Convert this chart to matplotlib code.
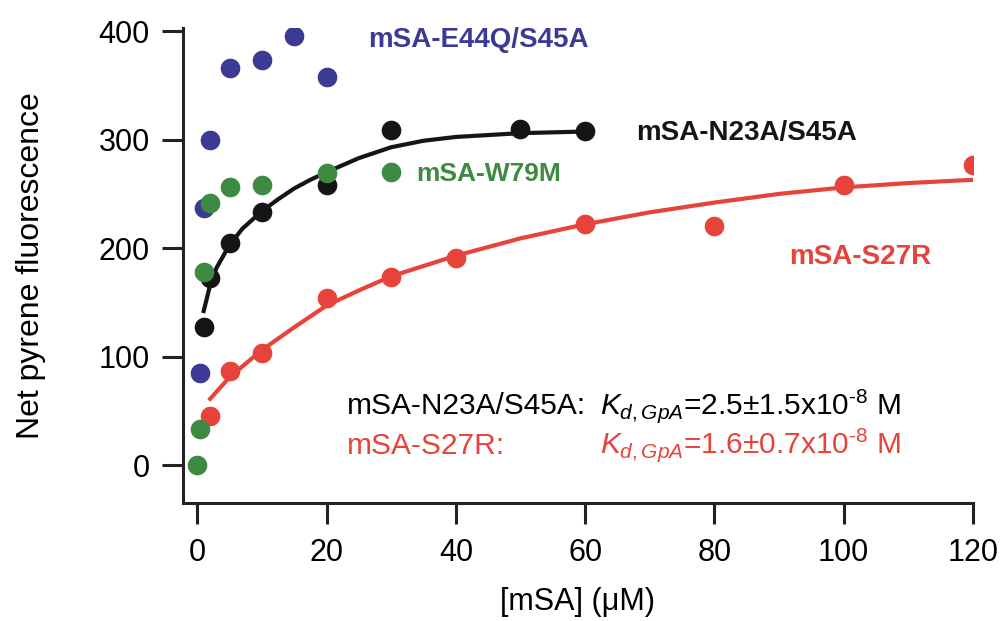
import matplotlib
matplotlib.use('Agg')
import matplotlib.pyplot as plt

plt.rcParams['font.family'] = ['Liberation Sans', 'DejaVu Sans']
plt.rcParams['mathtext.fontset'] = 'custom'
plt.rcParams['mathtext.rm'] = 'Liberation Sans'
plt.rcParams['mathtext.it'] = 'Liberation Sans:italic'

# data
blue_x = [0.5, 1, 2, 5, 10, 15, 20]
blue_y = [85, 237, 300, 366, 373, 396, 358]

green_x = [0, 0.5, 1, 2, 5, 10, 20, 30]
green_y = [0, 33, 178, 242, 256, 258, 269, 270]

black_x = [1, 2, 5, 10, 20, 30, 50, 60]
black_y = [127, 172, 205, 233, 258, 309, 310, 308]

red_x = [2, 5, 10, 20, 30, 40, 60, 80, 100, 120]
red_y = [45, 87, 103, 154, 173, 191, 222, 220, 258, 277]

# fitted curves, read as points along the drawn lines
black_fit_x = [1, 2, 3, 5, 7, 10, 12.5, 15, 17.5, 20, 25, 30, 35, 40, 50, 60]
black_fit_y = [142, 166, 182, 203, 218, 234, 245, 255, 263, 270, 283, 293, 299, 302.5, 306, 307.5]

red_fit_x = [2, 5, 10, 15, 20, 25, 30, 40, 50, 60, 70, 80, 90, 100, 110, 120]
red_fit_y = [61, 81, 106, 127, 147, 161, 174, 193, 209, 222, 233, 242, 250, 256, 260, 263]

c_blue = '#3b3a94'
c_green = '#3f8a42'
c_black = '#151515'
c_red = '#e8433a'

fig = plt.figure(figsize=(10, 6.21), dpi=100)
ax = fig.add_axes([0.183, 0.19, 0.79, 0.765])

ms = 200
ax.scatter(blue_x, blue_y, s=ms, color=c_blue, zorder=3, linewidths=0)
ax.plot(red_fit_x, red_fit_y, color=c_red, lw=3, zorder=2)
ax.scatter(red_x, red_y, s=ms, color=c_red, zorder=3, linewidths=0)
ax.plot(black_fit_x, black_fit_y, color=c_black, lw=3, zorder=4)
ax.scatter(black_x, black_y, s=ms, color=c_black, zorder=5, linewidths=0)
ax.scatter(green_x, green_y, s=ms, color=c_green, zorder=6, linewidths=0)

ax.set_xlim(-2.2, 120)
ax.set_ylim(-35, 403)
ax.set_xticks([0, 20, 40, 60, 80, 100, 120])
ax.set_yticks([0, 100, 200, 300, 400])

for s in ['top', 'right']:
    ax.spines[s].set_visible(False)
for s in ['left', 'bottom']:
    ax.spines[s].set_linewidth(2.2)
    ax.spines[s].set_color('#222222')

ax.tick_params(axis='x', length=15, width=2.2, color='#222222', labelsize=22, pad=10)
ax.tick_params(axis='y', length=15, width=2.2, color='#222222', labelsize=22, pad=9)

ax.set_xlabel('[mSA] (\u03bcM)', fontsize=22, labelpad=14)
ax.set_ylabel('Net pyrene fluorescence', fontsize=23, labelpad=38)

# series labels
lab = dict(fontsize=20, fontweight='bold', ha='center', va='center')
ax.text(43.5, 392, 'mSA-E44Q/S45A', color=c_blue, **lab)
ax.text(85, 306, 'mSA-N23A/S45A', color=c_black, **lab)
ax.text(45, 268, 'mSA-W79M', color=c_green, fontsize=19, fontweight='bold', ha='center', va='center')
ax.text(102.5, 192, 'mSA-S27R', color=c_red, **lab)

# Kd annotations
pm = '\u00b1'
ax.text(23.2, 54, 'mSA-N23A/S45A:', color='black', fontsize=21.5, va='center')
ax.text(62.3, 54, r'$K_{d,GpA}$=2.5' + pm + r'1.5x10$^{\text{-8}}$ M',
        color='black', fontsize=21.5, va='center')
ax.text(23.2, 18, 'mSA-S27R:', color=c_red, fontsize=21.5, va='center')
ax.text(62.3, 18, r'$K_{d,GpA}$=1.6' + pm + r'0.7x10$^{\text{-8}}$ M',
        color=c_red, fontsize=21.5, va='center')

plt.savefig('out.png', dpi=100)
